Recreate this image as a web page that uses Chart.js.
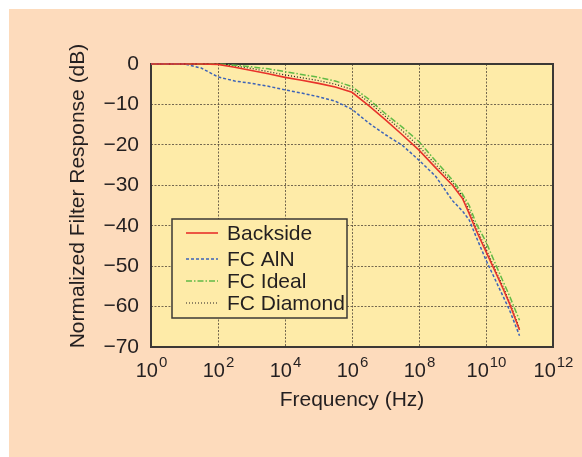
<!DOCTYPE html>
<html>
<head>
<meta charset="utf-8">
<script src="https://cdn.jsdelivr.net/npm/chart.js@4.4.1/dist/chart.umd.min.js"></script>
<style>
  html, body { margin: 0; padding: 0; background: #fff; }
  canvas { display: block; }
</style>
</head>
<body>
<canvas id="filterChart" width="582" height="457"></canvas>
<script>
// dados (frequência em Hz, resposta em dB)
const freqHz = [1, 10, 31.6, 100, 316, 1e3, 3.16e3, 1e4, 3.16e4, 1e5, 3.16e5, 1e6, 3.16e6, 1e7, 3.16e7, 1e8, 3.16e8, 1e9, 2e9, 3.16e9, 5e9, 1e10, 2e10, 3.16e10, 5e10, 1e11];
const backside  = [0, 0, 0, -0.1, -0.8, -1.6, -2.4, -3.3, -4.0, -4.8, -5.7, -7.0, -10.3, -13.8, -17.5, -21.3, -25.7, -30.0, -33.3, -37.0, -41.0, -46.4, -51.8, -55.4, -59.2, -65.8];
const fcAlN     = [0, 0, -1.0, -3.2, -4.2, -4.8, -5.5, -6.4, -7.2, -8.1, -9.2, -11.2, -14.6, -17.5, -20.1, -23.8, -27.8, -33.8, -36.4, -38.6, -42.6, -48.5, -53.8, -57.3, -60.8, -67.2];
const fcIdeal   = [0, 0, 0, 0, -0.3, -0.7, -1.2, -1.9, -2.6, -3.3, -4.2, -5.6, -8.7, -12.3, -15.6, -19.2, -24.0, -28.7, -32.2, -35.0, -39.3, -44.0, -49.8, -53.6, -57.3, -63.4];
const fcDiamond = [0, 0, 0, 0, -0.5, -1.1, -1.9, -2.7, -3.4, -4.1, -5.0, -6.3, -9.4, -13.0, -16.5, -20.4, -24.9, -29.3, -32.8, -36.2, -40.3, -45.8, -51.3, -54.9, -58.8, -65.4];

const seriesLabels = ['Backside', 'FC AlN', 'FC Ideal', 'FC Diamond'];
const xTickValues = [1, 1e2, 1e4, 1e6, 1e8, 1e10, 1e12];
const xTickExps = ['0', '2', '4', '6', '8', '10', '12'];
const yTickValues = [0, -10, -20, -30, -40, -50, -60, -70];

const FONT = '"Liberation Sans", Arial, Helvetica, sans-serif';
const TEXT = '#231f20';
const OUTER_BG = '#fddbbc';
const PLOT_BG = '#feeba8';

function toPoints(vals) {
    return freqHz.map((f, i) => ({ x: f, y: vals[i] }));
}

// fundo, moldura, rótulos do eixo x, títulos e legenda
const decorPlugin = {
    id: 'decor',
    beforeDraw(chart) {
        const ctx = chart.ctx;
        const a = chart.chartArea;
        ctx.save();
        ctx.fillStyle = '#ffffff';
        ctx.fillRect(0, 0, chart.width, chart.height);
        ctx.fillStyle = OUTER_BG;
        ctx.fillRect(9, 9, chart.width - 9, chart.height - 9);
        ctx.fillStyle = PLOT_BG;
        ctx.fillRect(a.left, a.top, a.right - a.left, a.bottom - a.top);
        ctx.restore();
    },
    beforeDatasetsDraw(chart) {
        // moldura (as curvas passam por cima dela em 0 dB)
        const ctx = chart.ctx;
        const a = chart.chartArea;
        ctx.save();
        ctx.strokeStyle = '#3b3835';
        ctx.lineWidth = 2;
        ctx.strokeRect(a.left, a.top, a.right - a.left, a.bottom - a.top);
        ctx.restore();
    },
    afterDraw(chart) {
        const ctx = chart.ctx;
        const a = chart.chartArea;
        const xs = chart.scales.x;
        ctx.save();

        // rótulos 10^n
        ctx.fillStyle = TEXT;
        ctx.textBaseline = 'alphabetic';
        ctx.textAlign = 'left';
        xTickValues.forEach((v, i) => {
            const px = xs.getPixelForValue(v);
            ctx.font = '20px ' + FONT;
            const wb = ctx.measureText('10').width;
            ctx.font = '15px ' + FONT;
            const we = ctx.measureText(xTickExps[i]).width;
            const x0 = px - (wb + we) / 2;
            ctx.font = '20px ' + FONT;
            ctx.fillText('10', x0, 377);
            ctx.font = '15px ' + FONT;
            ctx.fillText(xTickExps[i], x0 + wb + 1, 367);
        });

        // títulos dos eixos
        ctx.font = '21px ' + FONT;
        ctx.textAlign = 'center';
        ctx.fillText('Frequency (Hz)', (a.left + a.right) / 2, 406);
        ctx.save();
        ctx.translate(84, 196);
        ctx.rotate(-Math.PI / 2);
        ctx.fillText('Normalized Filter Response (dB)', 0, 0);
        ctx.restore();

        // legenda
        const box = { x: 172, y: 219, w: 175, h: 99 };
        ctx.fillStyle = PLOT_BG;
        ctx.fillRect(box.x, box.y, box.w, box.h);
        ctx.strokeStyle = '#3b3835';
        ctx.lineWidth = 1.5;
        ctx.strokeRect(box.x, box.y, box.w, box.h);
        const rowsY = [233, 259, 281, 303];
        chart.data.datasets.forEach((ds, i) => {
            const y = rowsY[i];
            ctx.strokeStyle = ds.borderColor;
            ctx.lineWidth = ds.borderWidth;
            ctx.setLineDash(ds.borderDash || []);
            ctx.beginPath();
            ctx.moveTo(186, y);
            ctx.lineTo(218, y);
            ctx.stroke();
            ctx.setLineDash([]);
            ctx.fillStyle = TEXT;
            ctx.font = '21px ' + FONT;
            ctx.textAlign = 'left';
            ctx.textBaseline = 'middle';
            ctx.fillText(ds.label, 227, y + 1);
        });

        ctx.restore();
    }
};

const ctx = document.getElementById('filterChart').getContext('2d');
const filterChart = new Chart(ctx, {
    type: 'line',
    data: {
        datasets: [{
            label: seriesLabels[0],
            data: toPoints(backside),
            borderColor: '#e8322b',
            borderWidth: 1.6,
            pointRadius: 0,
            clip: 4,
            fill: false
        }, {
            label: seriesLabels[1],
            data: toPoints(fcAlN),
            borderColor: '#3d63b8',
            borderWidth: 1.5,
            borderDash: [3, 2],
            pointRadius: 0,
            clip: 4,
            fill: false
        }, {
            label: seriesLabels[2],
            data: toPoints(fcIdeal),
            borderColor: '#62bb46',
            borderWidth: 1.5,
            borderDash: [6, 2, 1.5, 2],
            pointRadius: 0,
            clip: 4,
            fill: false
        }, {
            label: seriesLabels[3],
            data: toPoints(fcDiamond),
            borderColor: '#231f20',
            borderWidth: 1.2,
            borderDash: [1, 2],
            pointRadius: 0,
            clip: 4,
            fill: false
        }]
    },
    options: {
        responsive: false,
        devicePixelRatio: 1,
        animation: false,
        layout: {
            padding: { left: 0, top: 64, right: 29, bottom: 0 }
        },
        plugins: {
            legend: { display: false },
            tooltip: { enabled: false }
        },
        scales: {
            x: {
                type: 'logarithmic',
                min: 1,
                max: 1e12,
                afterBuildTicks: (scale) => {
                    scale.ticks = xTickValues.map(v => ({ value: v }));
                },
                afterFit: (scale) => { scale.height = 110; },
                ticks: { display: false },
                grid: {
                    color: 'rgba(70, 60, 50, 0.75)',
                    lineWidth: 1,
                    drawTicks: false
                },
                border: { display: false, dash: [2, 1.5] }
            },
            y: {
                min: -70,
                max: 0,
                afterBuildTicks: (scale) => {
                    scale.ticks = yTickValues.map(v => ({ value: v }));
                },
                afterFit: (scale) => { scale.width = 151; },
                ticks: {
                    color: TEXT,
                    font: { family: FONT, size: 21 },
                    padding: 12,
                    callback: (v) => v < 0 ? '\u2212' + Math.abs(v) : '0'
                },
                grid: {
                    color: 'rgba(70, 60, 50, 0.75)',
                    lineWidth: 1,
                    drawTicks: false
                },
                border: { display: false, dash: [2, 1.5] }
            }
        }
    },
    plugins: [decorPlugin]
});
</script>
</body>
</html>
